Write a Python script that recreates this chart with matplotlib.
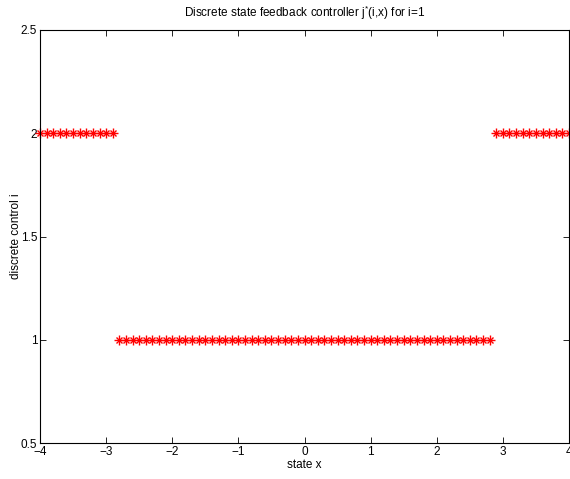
import matplotlib
matplotlib.use('Agg')
import matplotlib.pyplot as plt

plt.rcParams['font.family'] = ['Liberation Sans', 'DejaVu Sans']
plt.rcParams['mathtext.fontset'] = 'custom'
plt.rcParams['mathtext.rm'] = 'Liberation Sans'
plt.rcParams['mathtext.it'] = 'Liberation Sans'

# state grid and the optimal discrete control at each grid point (mode i=1)
state_x = [
    -4.0, -3.9, -3.8, -3.7, -3.6, -3.5, -3.4, -3.3, -3.2, -3.1, -3.0, -2.9,
    -2.8, -2.7, -2.6, -2.5, -2.4, -2.3, -2.2, -2.1, -2.0, -1.9, -1.8, -1.7,
    -1.6, -1.5, -1.4, -1.3, -1.2, -1.1, -1.0, -0.9, -0.8, -0.7, -0.6, -0.5,
    -0.4, -0.3, -0.2, -0.1, 0.0, 0.1, 0.2, 0.3, 0.4, 0.5, 0.6, 0.7,
    0.8, 0.9, 1.0, 1.1, 1.2, 1.3, 1.4, 1.5, 1.6, 1.7, 1.8, 1.9,
    2.0, 2.1, 2.2, 2.3, 2.4, 2.5, 2.6, 2.7, 2.8, 2.9, 3.0, 3.1,
    3.2, 3.3, 3.4, 3.5, 3.6, 3.7, 3.8, 3.9, 4.0,
]
control_j = [
    2, 2, 2, 2, 2, 2, 2, 2, 2, 2, 2, 2,
    1, 1, 1, 1, 1, 1, 1, 1, 1, 1, 1, 1,
    1, 1, 1, 1, 1, 1, 1, 1, 1, 1, 1, 1,
    1, 1, 1, 1, 1, 1, 1, 1, 1, 1, 1, 1,
    1, 1, 1, 1, 1, 1, 1, 1, 1, 1, 1, 1,
    1, 1, 1, 1, 1, 1, 1, 1, 1, 2, 2, 2,
    2, 2, 2, 2, 2, 2, 2, 2, 2,
]
x_ticks = [-4, -3, -2, -1, 0, 1, 2, 3, 4]
x_ticklabels = ['\u22124', '\u22123', '\u22122', '\u22121', '0', '1', '2', '3', '4']
y_ticks = [0.5, 1, 1.5, 2, 2.5]
y_ticklabels = ['0.5', '1', '1.5', '2', '2.5']

fs = 8.5

fig = plt.figure(figsize=(5.70, 4.79), dpi=100)
ax = fig.add_axes([40 / 570, 36 / 479, 529 / 570, 413 / 479])

# asterisk marker = plus and cross drawn on top of each other
for m, ms in (('+', 6.5), ('x', 5.0)):
    ax.plot(state_x, control_j, linestyle='none', marker=m, color='#ff0000',
            markersize=ms, markeredgewidth=1.0, clip_on=False)

ax.set_xlim(-4, 4)
ax.set_ylim(0.5, 2.5)
ax.set_xticks(x_ticks)
ax.set_xticklabels(x_ticklabels)
ax.set_yticks(y_ticks)
ax.set_yticklabels(y_ticklabels)
ax.tick_params(direction='in', length=4, width=0.6, labelsize=fs,
               top=True, right=True, pad=2)
for sp in ax.spines.values():
    sp.set_linewidth(0.8)

ax.set_xlabel('state x', fontsize=fs, labelpad=1)
ax.set_ylabel('discrete control i', fontsize=fs, labelpad=-1)
ax.set_title(r'Discrete state feedback controller $\mathregular{j^{*}}$(i,x) for i=1',
             fontsize=fs, pad=9)

fig.savefig('out.png', dpi=100, facecolor='white')
